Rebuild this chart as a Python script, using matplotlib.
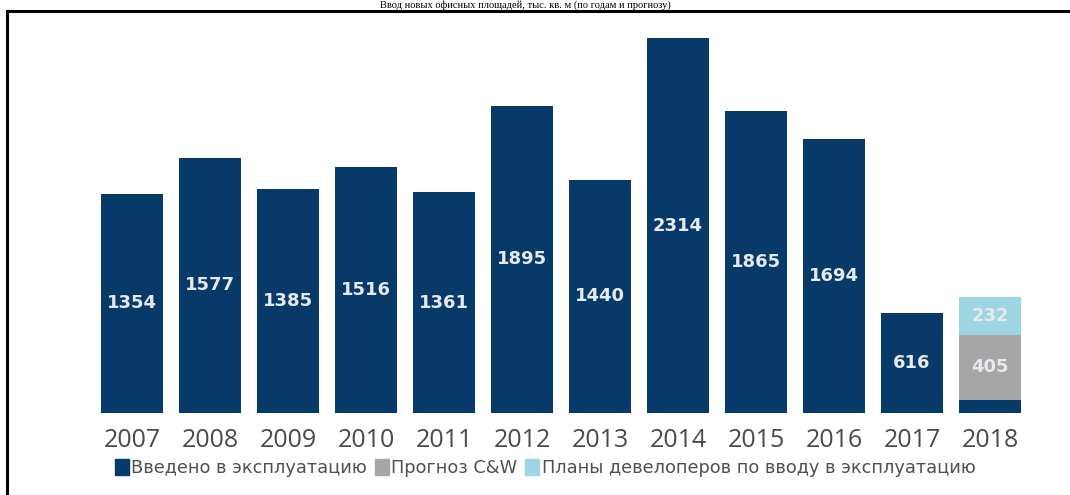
import matplotlib
matplotlib.use("Agg")
import matplotlib.pyplot as plt
from matplotlib.patches import Patch
from matplotlib.lines import Line2D
import numpy as np

years = ["2007", "2008", "2009", "2010", "2011", "2012",
         "2013", "2014", "2015", "2016", "2017", "2018"]
completed = [1354, 1577, 1385, 1516, 1361, 1895, 1440, 2314, 1865, 1694, 616, 79]
forecast = [0, 0, 0, 0, 0, 0, 0, 0, 0, 0, 0, 405]
plans = [0, 0, 0, 0, 0, 0, 0, 0, 0, 0, 0, 232]
labelled_completed = 11  # the 2018 completed slice is too thin to carry a label

series_names = ["Введено в эксплуатацию", "Прогноз C&W",
                "Планы девелоперов по вводу в эксплуатацию"]
title = "Ввод новых офисных площадей, тыс. кв. м (по годам и прогнозу)"

c_done = "#083a69"
c_fc = "#a6a6a6"
c_plan = "#9dd5e2"

fig = plt.figure(figsize=(10.7, 4.95), dpi=100)
W, H = 1070, 495

ax = fig.add_axes([93 / W, 1 - 413 / H, 936 / W, 383 / H])
x = np.arange(len(years))
bw = 0.79

ax.bar(x, completed, bw, color=c_done, linewidth=0)
ax.bar(x, forecast, bw, bottom=completed, color=c_fc, linewidth=0)
bottom2 = [a + b for a, b in zip(completed, forecast)]
ax.bar(x, plans, bw, bottom=bottom2, color=c_plan, linewidth=0)

lab_kw = dict(ha="center", va="center", color="#e6e9ee", fontsize=13,
              fontweight="bold", family="DejaVu Sans")
for i in range(labelled_completed):
    ax.text(x[i], completed[i] / 2, f"{completed[i]}", **lab_kw)
for i in range(len(years)):
    if forecast[i] > 0:
        ax.text(x[i], completed[i] + forecast[i] / 2, f"{forecast[i]}", **lab_kw)
    if plans[i] > 0:
        ax.text(x[i], bottom2[i] + plans[i] / 2, f"{plans[i]}", **lab_kw)

ax.set_xlim(-0.5, len(years) - 0.5)
ax.set_ylim(0, 2364)
ax.set_xticks(x)
ax.set_xticklabels(years, fontsize=18, color="#4a4a4a", family="Open Sans")
ax.tick_params(axis="x", length=0, pad=11)
ax.set_yticks([])
for s in ax.spines.values():
    s.set_visible(False)

handles = [Patch(color=c_done), Patch(color=c_fc), Patch(color=c_plan)]
fig.legend(handles, series_names, loc="center", bbox_to_anchor=(545 / W, 1 - 468 / H),
           ncol=3, frameon=False, labelcolor="#505050",
           handlelength=0.8, handleheight=1.0, handletextpad=0.12,
           columnspacing=0.45, prop={"family": "DejaVu Sans", "size": 12.8})

# frame around the chart (its right and bottom edges run off the page)
fig.add_artist(Line2D([7 / W, 7 / W], [0, 1 - 11 / H], transform=fig.transFigure,
                      color="black", lw=2.2, solid_capstyle="projecting"))
fig.add_artist(Line2D([7 / W, 1.0], [1 - 11 / H, 1 - 11 / H], transform=fig.transFigure,
                      color="black", lw=2.2, solid_capstyle="projecting"))

# heading in the narrow band above the frame
fig.text(525 / W, 1 - 7.5 / H, title, ha="center", va="baseline", fontsize=7.5,
         family="Liberation Serif", color="black")

fig.savefig("out.png", dpi=100)
